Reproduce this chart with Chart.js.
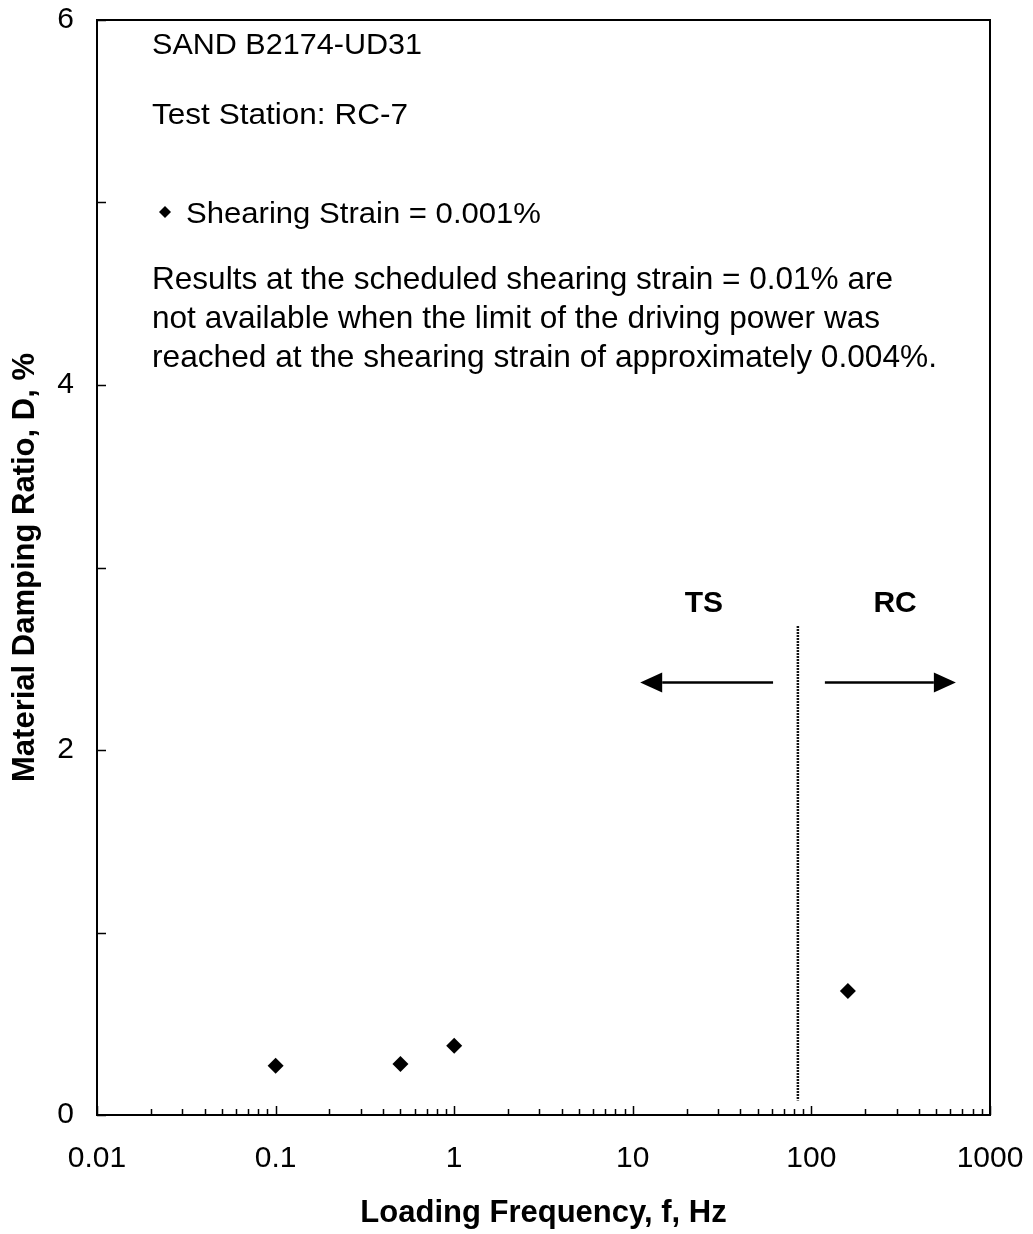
<!DOCTYPE html>
<html>
<head>
<meta charset="utf-8">
<script src="https://cdn.jsdelivr.net/npm/chart.js@4.4.1/dist/chart.umd.min.js"></script>
<style>
  html, body { margin: 0; padding: 0; background: #fff; }
  #wrap { width: 1033px; height: 1234px; }
</style>
</head>
<body>
<div id="wrap"><canvas id="c" width="1033" height="1234"></canvas></div>
<script>
// Measured damping ratio versus loading frequency
const frequencyHz = [0.1, 0.5, 1, 160];
const dampingRatio = [0.27, 0.28, 0.38, 0.68];

// Axis ticks
const xTickValues = [0.01, 0.1, 1, 10, 100, 1000];
const xTickLabels = ['0.01', '0.1', '1', '10', '100', '1000'];
const yTickValues = [0, 1, 2, 3, 4, 5, 6];
const yTickLabels = ['0', '', '2', '', '4', '', '6'];

// Annotation text
const infoLines = ['SAND B2174-UD31', 'Test Station: RC-7'];
const legendLabel = 'Shearing Strain = 0.001%';
const noteLines = [
  'Results at the scheduled shearing strain = 0.01% are',
  'not available when the limit of the driving power was',
  'reached at the shearing strain of approximately 0.004%.'
];

// Boundary between torsional shear (TS) and resonant column (RC) tests
const boundaryHz = 84;
const boundaryRange = [0.08, 2.68];
const arrowLevel = 2.37;
const tsArrow = [61, 11];    // start, tip (Hz)
const rcArrow = [119, 644];  // start, tip (Hz)
const zoneLabels = ['TS', 'RC'];
const zoneLabelHz = [25, 294];
const zoneLabelLevel = 2.8;

const FONT = '"Liberation Sans", Arial, Helvetica, sans-serif';

function fitText(ctx, text, x, y, width) {
  const w = ctx.measureText(text).width;
  ctx.save();
  ctx.translate(x, y);
  ctx.scale(width / w, 1);
  ctx.fillText(text, 0, 0);
  ctx.restore();
}

function arrow(ctx, x0, x1, y) {
  const dir = Math.sign(x1 - x0);
  const headLen = 22, headHalf = 10;
  ctx.beginPath();
  ctx.moveTo(x0, y);
  ctx.lineTo(x1 - dir * headLen, y);
  ctx.stroke();
  ctx.beginPath();
  ctx.moveTo(x1, y);
  ctx.lineTo(x1 - dir * headLen, y - headHalf);
  ctx.lineTo(x1 - dir * headLen, y + headHalf);
  ctx.closePath();
  ctx.fill();
}

const decorations = {
  id: 'decorations',
  afterDraw(chart) {
    const { ctx, chartArea: a, scales: { x, y } } = chart;
    ctx.save();
    ctx.strokeStyle = '#000';
    ctx.fillStyle = '#000';

    // plot frame
    ctx.lineWidth = 2;
    ctx.strokeRect(a.left, a.top, a.right - a.left, a.bottom - a.top);

    // inward tick marks
    ctx.lineWidth = 1.5;
    ctx.beginPath();
    yTickValues.forEach(v => {
      const py = Math.round(y.getPixelForValue(v)) + 0.5;
      ctx.moveTo(a.left, py);
      ctx.lineTo(a.left + 9, py);
    });
    for (let e = -2; e <= 3; e++) {
      const base = Math.pow(10, e);
      const px = Math.round(x.getPixelForValue(base)) + 0.5;
      ctx.moveTo(px, a.bottom);
      ctx.lineTo(px, a.bottom - 9);
      if (e < 3) {
        for (let d = 2; d <= 9; d++) {
          const mx = Math.round(x.getPixelForValue(d * base)) + 0.5;
          ctx.moveTo(mx, a.bottom);
          ctx.lineTo(mx, a.bottom - 6);
        }
      }
    }
    ctx.stroke();

    // TS / RC boundary
    const bx = x.getPixelForValue(boundaryHz);
    ctx.save();
    ctx.lineWidth = 2.5;
    ctx.strokeStyle = '#111';
    ctx.setLineDash([2, 1]);
    ctx.beginPath();
    ctx.moveTo(bx, y.getPixelForValue(boundaryRange[1]));
    ctx.lineTo(bx, y.getPixelForValue(boundaryRange[0]));
    ctx.stroke();
    ctx.restore();

    // arrows
    ctx.lineWidth = 2.5;
    const ay = y.getPixelForValue(arrowLevel);
    arrow(ctx, x.getPixelForValue(tsArrow[0]), x.getPixelForValue(tsArrow[1]), ay);
    arrow(ctx, x.getPixelForValue(rcArrow[0]), x.getPixelForValue(rcArrow[1]), ay);

    // zone labels
    ctx.font = 'bold 30px ' + FONT;
    ctx.textAlign = 'center';
    ctx.textBaseline = 'middle';
    zoneLabels.forEach((t, i) => {
      ctx.fillText(t, x.getPixelForValue(zoneLabelHz[i]), y.getPixelForValue(zoneLabelLevel));
    });

    // info text
    ctx.textAlign = 'left';
    ctx.textBaseline = 'alphabetic';
    ctx.font = '30px ' + FONT;
    const tx = a.left + 55;
    fitText(ctx, infoLines[0], tx, a.top + 34, 270);
    fitText(ctx, infoLines[1], tx, a.top + 104, 256);

    // legend entry
    const ly = a.top + 192;
    ctx.beginPath();
    ctx.moveTo(a.left + 62, ly);
    ctx.lineTo(a.left + 68, ly - 6);
    ctx.lineTo(a.left + 74, ly);
    ctx.lineTo(a.left + 68, ly + 6);
    ctx.closePath();
    ctx.fill();
    fitText(ctx, legendLabel, a.left + 89, a.top + 203, 355);

    // note
    ctx.font = '32px ' + FONT;
    const noteWidths = [741, 728, 785];
    noteLines.forEach((t, i) => {
      fitText(ctx, t, tx, a.top + 269 + i * 39, noteWidths[i]);
    });

    ctx.restore();
  }
};

new Chart(document.getElementById('c'), {
  type: 'scatter',
  data: {
    datasets: [{
      label: legendLabel,
      data: frequencyHz.map((f, i) => ({ x: f, y: dampingRatio[i] })),
      pointStyle: 'rectRot',
      pointRadius: 8,
      pointBackgroundColor: '#000',
      pointBorderColor: '#000',
      pointBorderWidth: 0,
      showLine: false
    }]
  },
  options: {
    responsive: false,
    animation: false,
    layout: { padding: { top: 20, right: 43, left: 0, bottom: 0 } },
    plugins: { legend: { display: false }, tooltip: { enabled: false } },
    scales: {
      x: {
        type: 'logarithmic',
        position: 'bottom',
        min: 0.01,
        max: 1000,
        grid: { display: false, drawTicks: false },
        border: { display: false },
        afterBuildTicks: s => { s.ticks = xTickValues.map(v => ({ value: v })); },
        afterFit: s => { s.height = 119; s.paddingLeft = 0; s.paddingRight = 0; },
        ticks: {
          autoSkip: false,
          maxRotation: 0,
          padding: 26,
          color: '#000',
          font: { family: FONT, size: 30 },
          callback: (v, i) => xTickLabels[i]
        },
        title: {
          display: true,
          text: 'Loading Frequency, f, Hz',
          color: '#000',
          font: { family: FONT, size: 31, weight: 'bold' },
          padding: { top: 0, bottom: 2 }
        }
      },
      y: {
        type: 'linear',
        min: 0,
        max: 6,
        grid: { display: false, drawTicks: false },
        border: { display: false },
        afterBuildTicks: s => { s.ticks = yTickValues.map(v => ({ value: v })); },
        afterFit: s => { s.width = 97; s.paddingTop = 0; s.paddingBottom = 0; },
        ticks: {
          autoSkip: false,
          padding: 23,
          color: '#000',
          font: { family: FONT, size: 30 },
          callback: (v, i) => yTickLabels[i]
        },
        title: {
          display: true,
          text: 'Material Damping Ratio, D, %',
          color: '#000',
          font: { family: FONT, size: 31, weight: 'bold' },
          padding: { top: 7, bottom: 0 }
        }
      }
    }
  },
  plugins: [decorations]
});
</script>
</body>
</html>
